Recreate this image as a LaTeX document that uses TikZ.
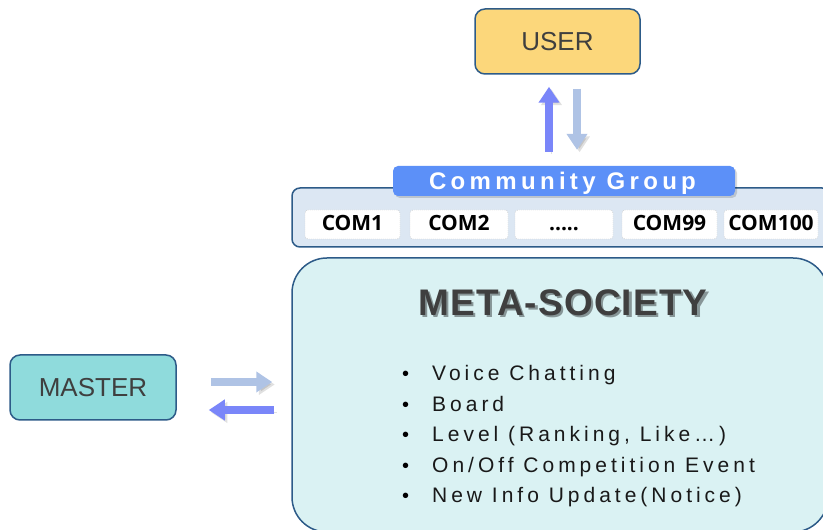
\documentclass[tikz,border=0pt]{standalone}
\usepackage{fontspec}
\setmainfont{Liberation Sans}
\newfontfamily\itemfont[LetterSpace=19]{Liberation Sans}
\newfontfamily\groupfont[LetterSpace=18]{Liberation Sans}
\newfontfamily\titlefont[LetterSpace=3]{Liberation Sans}
\newfontfamily\comfont{Open Sans}
\usepackage{tikz}
\usetikzlibrary{arrows.meta,positioning,calc}

\definecolor{boxline}{HTML}{2D5B88}
\definecolor{userfill}{HTML}{FCD77B}
\definecolor{masterfill}{HTML}{8FDBDC}
\definecolor{metafill}{HTML}{DAF2F3}
\definecolor{groupfill}{HTML}{DCE7F3}
\definecolor{headfill}{HTML}{5C90F8}
\definecolor{arrowdark}{HTML}{7A86F9}
\definecolor{arrowlight}{HTML}{AFC3E5}
\definecolor{textgray}{HTML}{3F3F3F}

% title with a drop shadow behind it
\newcommand{\shadowtitle}[1]{%
  \makebox[0pt][l]{\hspace{2.5pt}\raisebox{-2.5pt}{\color{black!38!metafill}#1}}%
  #1}

\tikzset{
  rolebox/.style={draw=boxline,line width=1.5pt,rounded corners=10pt,
    minimum width=165pt,minimum height=65pt,inner sep=0pt,
    font=\fontsize{26}{30}\selectfont,text=textgray},
  combox/.style={draw=gray!45,dash pattern=on 1pt off 1pt,fill=white,
    rounded corners=3pt,minimum height=29pt,inner sep=0pt,
    text height=15pt,text depth=3pt,
    font=\comfont\bfseries\fontsize{21}{24}\selectfont},
  flow/.style={line width=8.5pt,-{Triangle[width=20pt,length=16pt]},
    preaction={draw=black,opacity=.12,transform canvas={shift={(2.5pt,-2.5pt)}}}},
}

\begin{document}
\begin{tikzpicture}[x=1pt,y=1pt]
\useasboundingbox (0,0) rectangle (823,530);
\clip (0,0) rectangle (823,530);

% main platform block
\node[draw=boxline,line width=1.5pt,fill=metafill,rounded corners=35pt,
  minimum width=536pt,minimum height=274pt] (meta) at (560,135) {};
\node[font=\titlefont\bfseries\fontsize{37}{40}\selectfont,text=textgray] (title) at (563,226) {\shadowtitle{META-SOCIETY}};

% feature list
\foreach \txt [count=\i] in {Voice Chatting, Board, {Level (Ranking, Like…)},
    On/Off Competition Event, New Info Update(Notice)}
{
  \node[anchor=base west,inner sep=0pt,font=\fontsize{20}{24}\selectfont] (dot\i) at (402,149-30.5*\i+30.5) {•};
  \node[anchor=base west,inner sep=0pt,font=\itemfont\fontsize{21}{24}\selectfont,text=black!90] (item\i) at (432,149-30.5*\i+30.5) {\txt};
}

% community group strip
\node[draw=boxline,line width=1.5pt,fill=groupfill,rounded corners=8pt,
  minimum width=538pt,minimum height=59pt] (group) at (561,312.5) {};
\node[fill=headfill,rounded corners=5pt,minimum width=342pt,minimum height=30pt,
  inner sep=0pt,text=white,text height=20pt,text depth=2pt,
  preaction={fill=black,opacity=.15,transform canvas={shift={(2pt,-2pt)}}},
  font=\groupfont\bfseries\fontsize{24}{26}\selectfont] (cg) at (564,349) {\hspace*{-3pt}Community Group};
\node[combox,minimum width=95pt] (com1) at (352.5,305.5) {COM1};
\node[combox,minimum width=98pt] (com2) at (459,305.5) {COM2};
\node[combox,minimum width=98pt] (comdots) at (564,305.5) {.....};
\node[combox,minimum width=95pt] (com99) at (669.5,305.5) {COM99};
\node[combox,minimum width=94pt] (com100) at (771,305.5) {COM100};

% roles
\node[rolebox,fill=userfill] (user) at (557.5,488.5) {USER};
\node[rolebox,fill=masterfill,minimum width=166pt] (master) at (93,142.5) {MASTER};

\coordinate (upfoot) at ([xshift=-15pt]cg.north);
\coordinate (downtop) at ([xshift=19.5pt]user.south);
\coordinate (toright) at ([yshift=5.5pt]master.east);
\coordinate (toleft) at ([yshift=-22.5pt]master.east);

\draw[flow,arrowdark,shorten <=14pt,shorten >=12pt] (upfoot) -- (upfoot |- user.south);
\draw[flow,arrowlight,shorten <=14pt,shorten >=16pt] (downtop) -- (downtop |- cg.north);
\draw[flow,arrowlight,shorten <=34pt,shorten >=19pt] (toright) -- (toright -| meta.west);
\draw[flow,arrowdark,shorten <=17pt,shorten >=32pt] (toleft -| meta.west) -- (toleft);
\end{tikzpicture}
\end{document}
